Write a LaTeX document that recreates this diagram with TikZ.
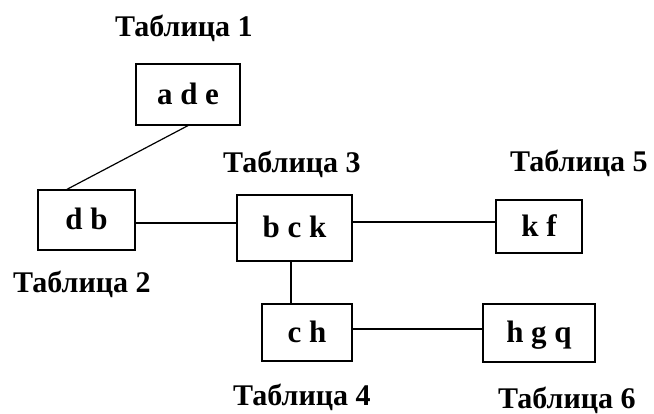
\documentclass[tikz,border=0pt]{standalone}
\usepackage{fontspec}
\setmainfont{Liberation Serif}
\usetikzlibrary{calc}
\begin{document}
\begin{tikzpicture}[x=1pt,y=-1pt,
  tbl/.style={draw, line width=1.2pt, inner sep=0pt,
    font=\fontsize{31}{31}\selectfont\bfseries, text depth=0pt, text height=20pt},
  lbl/.style={anchor=base west, inner sep=0pt, font=\fontsize{30}{30}\selectfont\bfseries},
  link/.style={line width=1.2pt}]
\useasboundingbox[fill=white] (0,0) rectangle (654,414);
% tables
\node[tbl, minimum width=104pt, minimum height=61pt] (t1) at (188,94.5) {a d e};
\node[tbl, minimum width=97pt, minimum height=60pt] (t2) at (86.5,220) {d b};
\node[tbl, minimum width=115pt, minimum height=66pt] (t3) at (294.5,228) {b c k};
\node[tbl, minimum width=90pt, minimum height=57pt] (t4) at (307,332.5) {c h};
\node[tbl, minimum width=86pt, minimum height=53pt] (t5) at (539,226.5) {k f};
\node[tbl, minimum width=112pt, minimum height=58pt] (t6) at (539,333) {h g q};
% labels
\node[lbl] (l1) at (115,37) {Таблица 1};
\node[lbl] (l2) at (13,293) {Таблица 2};
\node[lbl] (l3) at (223,173) {Таблица 3};
\node[lbl] (l4) at (233,405) {Таблица 4};
\node[lbl] (l5) at (510,172) {Таблица 5};
\node[lbl] (l6) at (498,409) {Таблица 6};
% connectors
\draw[link] (t1.south) -- ($(t2.north west)!0.3!(t2.north east)$);
\draw[link] ([yshift=-3pt]t2.east) -- ([yshift=-3pt]t2.east -| t3.west);
\draw[link] ([yshift=4.5pt]t5.west -| t3.east) -- ([yshift=4.5pt]t5.west);
\draw[link] ([xshift=-3.5pt]t3.south) -- ([xshift=-3.5pt]t3.south |- t4.north);
\draw[link] ([yshift=3.5pt]t4.east) -- ([yshift=3.5pt]t4.east -| t6.west);
\end{tikzpicture}
\end{document}
